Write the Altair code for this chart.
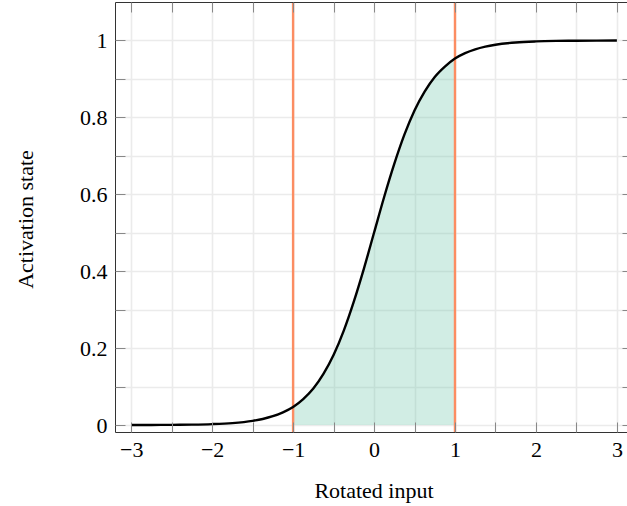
import altair as alt
import pandas as pd

# ---- data ----
x_vals = [-3.0, -2.75, -2.5, -2.25, -2.0, -1.75, -1.5, -1.375, -1.25, -1.125, -1.0,
          -0.875, -0.75, -0.625, -0.5, -0.375, -0.25, -0.125, 0.0, 0.125, 0.25, 0.375,
          0.5, 0.625, 0.75, 0.875, 1.0, 1.125, 1.25, 1.375, 1.5, 1.75, 2.0, 2.25, 2.5,
          2.75, 3.0]
y_vals = [0.0001, 0.0003, 0.0006, 0.0012, 0.0025, 0.0052, 0.011, 0.0159, 0.023, 0.0331, 0.047,
          0.0676, 0.095, 0.133, 0.182, 0.245, 0.321, 0.407, 0.5, 0.593, 0.679, 0.755,
          0.818, 0.867, 0.905, 0.932, 0.953, 0.967, 0.977, 0.984, 0.989, 0.9948, 0.9975, 0.9988, 0.9994,
          0.9997, 0.9999]
bound_x = [-1.0, 1.0]

x_tick_values = [-3, -2.5, -2, -1.5, -1, -0.5, 0, 0.5, 1, 1.5, 2, 2.5, 3]
x_label_values = [-3, -2, -1, 0, 1, 2, 3]
y_tick_values = [0, 0.1, 0.2, 0.3, 0.4, 0.5, 0.6, 0.7, 0.8, 0.9, 1.0]
y_label_values = [0, 0.2, 0.4, 0.6, 0.8, 1.0]

FONT = "Liberation Serif"
FS = 22
FRAME = "#333333"
TICK = "#888888"
GRID = "#ebebeb"

curve = pd.DataFrame({"x": x_vals, "y": y_vals})
shade = curve[(curve["x"] >= bound_x[0]) & (curve["x"] <= bound_x[1])]
bounds = pd.DataFrame({"x": bound_x})

xscale = alt.Scale(domain=[-3.2, 3.125], nice=False, zero=False)
yscale = alt.Scale(domain=[-0.018, 1.1], nice=False, zero=False)

lbl_x = "datum.value < 0 ? '\u2212' + format(abs(datum.value), '~g') : format(datum.value, '~g')"
lbl_y = "format(datum.value, '~g')"

# axes
ax_bottom_labels = alt.Axis(orient="bottom", values=x_label_values, grid=False, ticks=False,
                            tickSize=0, domain=True, domainColor=FRAME, domainWidth=1,
                            labelFont=FONT, labelFontSize=FS, labelColor="black",
                            labelPadding=24, labelBaseline="alphabetic", labelExpr=lbl_x,
                            labelFlush=False, labelOverlap=False,
                            title="Rotated input", titleFont=FONT, titleFontSize=FS,
                            titleFontWeight="normal", titleColor="black",
                            titleX=258.5, titleY=65, titleBaseline="alphabetic",
                            titleAlign="center", zindex=1)
ax_bottom_ticks = alt.Axis(orient="bottom", values=x_tick_values, offset=-10, tickSize=10,
                           ticks=True, tickColor=TICK, tickWidth=1, labels=False,
                           domain=False, grid=False, title=None, zindex=1)
ax_x_grid = alt.Axis(orient="bottom", values=x_tick_values, ticks=False, labels=False,
                     domain=False, grid=True, gridColor=GRID, gridWidth=1.6,
                     title=None, zindex=0)
ax_top_frame = alt.Axis(orient="top", values=x_label_values, ticks=False, labels=False,
                        grid=False, domain=True, domainColor=FRAME, domainWidth=1,
                        title=None, zindex=1)
ax_top_ticks = alt.Axis(orient="top", values=x_tick_values, offset=-10, tickSize=10,
                        ticks=True, tickColor=TICK, tickWidth=1, labels=False,
                        domain=False, grid=False, title=None, zindex=1)

ax_left_labels = alt.Axis(orient="left", values=y_label_values, grid=False, ticks=False,
                          tickSize=0, domain=True, domainColor=FRAME, domainWidth=1,
                          labelFont=FONT, labelFontSize=FS, labelColor="black",
                          labelPadding=8, labelExpr=lbl_y, labelOverlap=False,
                          labelFlush=False,
                          title="Activation state", titleFont=FONT, titleFontSize=FS,
                          titleFontWeight="normal", titleColor="black", titleAngle=270,
                          titleX=-83, titleY=217, titleBaseline="alphabetic",
                          titleAlign="center", zindex=1)
ax_left_ticks = alt.Axis(orient="left", values=y_tick_values, offset=-10, tickSize=10,
                         ticks=True, tickColor=TICK, tickWidth=1, labels=False,
                         domain=False, grid=False, title=None, zindex=1)
ax_y_grid = alt.Axis(orient="left", values=y_tick_values, ticks=False, labels=False,
                     domain=False, grid=True, gridColor=GRID, gridWidth=1.6,
                     title=None, zindex=0)
ax_right_ticks = alt.Axis(orient="right", values=y_tick_values, offset=-5, tickSize=5,
                          ticks=True, tickColor=TICK, tickWidth=1, labels=False,
                          domain=False, grid=False, title=None, zindex=1)

grid = alt.Chart(curve).mark_line(opacity=0).encode(
    x=alt.X("x:Q", scale=xscale, axis=ax_x_grid),
    y=alt.Y("y:Q", scale=yscale, axis=ax_y_grid),
)

area = alt.Chart(shade).mark_area(color="#66c2a5", opacity=0.3, interpolate="monotone").encode(
    x=alt.X("x:Q", scale=xscale, axis=ax_bottom_labels),
    y=alt.Y("y:Q", scale=yscale, axis=ax_left_labels),
    y2=alt.datum(0),
)

rules = alt.Chart(bounds).mark_rule(color="#fc8d62", strokeWidth=2.4).encode(
    x=alt.X("x:Q", scale=xscale, axis=ax_top_frame),
)

line = alt.Chart(curve).mark_line(color="black", strokeWidth=2.4, interpolate="monotone").encode(
    x=alt.X("x:Q", scale=xscale, axis=ax_bottom_ticks),
    y=alt.Y("y:Q", scale=yscale, axis=ax_left_ticks),
)

ghost = alt.Chart(curve).mark_line(opacity=0).encode(
    x=alt.X("x:Q", scale=xscale, axis=ax_top_ticks),
    y=alt.Y("y:Q", scale=yscale, axis=ax_right_ticks),
)

chart = (
    alt.layer(grid, area, rules, line, ghost)
    .resolve_axis(x="independent", y="independent")
    .properties(
        width=512,
        height=430,
        padding={"left": 115, "top": 2, "right": 0, "bottom": 74},
        autosize=alt.AutoSizeParams(type="none"),
        background="white",
    )
    .configure_view(strokeWidth=0)
)

chart.save("out.html", embed_options={"renderer": "svg", "actions": False})
